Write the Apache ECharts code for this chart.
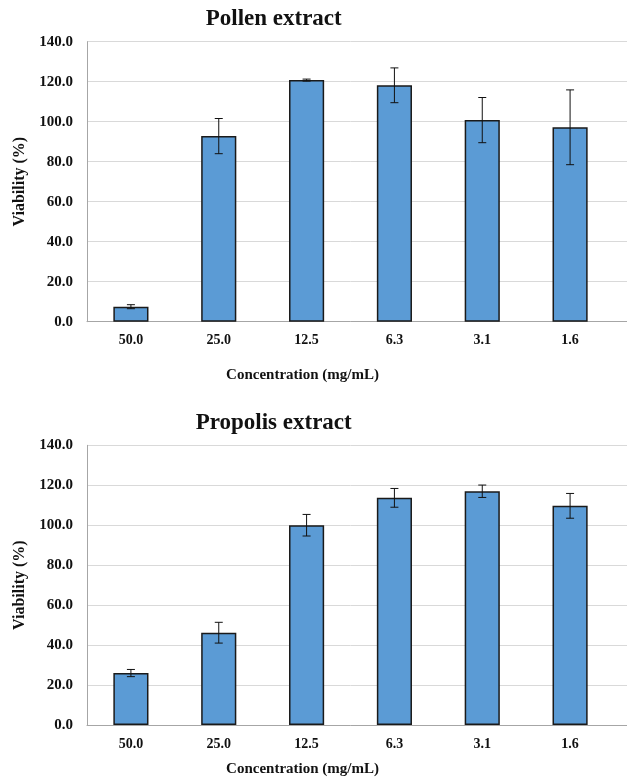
<!DOCTYPE html>
<html>
<head>
<meta charset="utf-8">
<script src="https://cdn.jsdelivr.net/npm/echarts@6/dist/echarts.min.js"></script>
<style>
  html, body { margin: 0; padding: 0; background: #fff; }
  #chart { width: 627px; height: 778px; }
</style>
</head>
<body>
<div id="chart"></div>
<script>
// Cell viability after treatment with pollen and propolis extracts
const categories = ['50.0', '25.0', '12.5', '6.3', '3.1', '1.6'];
const pollenMean = [7.5, 92.8, 120.8, 118.2, 100.8, 97.2];
const pollenSD = [1.0, 8.8, 0.5, 8.7, 11.3, 18.7];
const propolisMean = [26.0, 46.2, 100.0, 113.7, 117.0, 109.7];
const propolisSD = [1.8, 5.2, 5.4, 4.7, 3.1, 6.2];
const panelTitles = ['Pollen extract', 'Propolis extract'];
const xAxisTitle = 'Concentration (mg/mL)';
const yAxisTitle = 'Viability (%)';

const FONT = '"Liberation Serif", "Times New Roman", serif';
const AXIS_GRAY = '#a6a6a6';
const GRID_GRAY = '#d9d9d9';
const BAR_BLUE = '#5b9bd5';

const chart = echarts.init(document.getElementById('chart'), null, { renderer: 'canvas' });

function errorBarRenderer(params, api) {
  const i = api.value(0);
  const m = api.value(1);
  const s = api.value(2);
  const hi = api.coord([i, m + s]);
  const lo = api.coord([i, m - s]);
  const half = 4;
  const style = { stroke: '#111', lineWidth: 1 };
  return {
    type: 'group',
    children: [
      { type: 'line', shape: { x1: hi[0], y1: hi[1], x2: lo[0], y2: lo[1] }, style },
      { type: 'line', shape: { x1: hi[0] - half, y1: hi[1], x2: hi[0] + half, y2: hi[1] }, style },
      { type: 'line', shape: { x1: lo[0] - half, y1: lo[1], x2: lo[0] + half, y2: lo[1] }, style }
    ]
  };
}

const panelTops = [41.7, 445.3];
const plotH = 280;
const plotLeft = 87;
const plotW = 527;
const nameGaps = [46, 37];

const grids = [];
const xAxes = [];
const yAxes = [];
const series = [];
const titles = [];

const yLabelStyle = {
  fontFamily: FONT, fontWeight: 'bold', fontSize: 15, color: '#111', margin: 14,
  formatter: v => v.toFixed(1)
};

[[pollenMean, pollenSD], [propolisMean, propolisSD]].forEach((pair, p) => {
  const [means, sds] = pair;
  const top = panelTops[p];
  // main plotting area
  grids.push({ left: plotLeft, top: top, width: plotW, height: plotH, containLabel: false });
  // gridline continuation to the right edge
  grids.push({ left: plotLeft + plotW, top: top, right: 0, height: plotH, containLabel: false });

  const gMain = grids.length - 2;
  const gExt = grids.length - 1;

  xAxes.push({
    gridIndex: gMain, type: 'category', data: categories,
    axisLine: { lineStyle: { color: AXIS_GRAY, width: 1 } },
    axisTick: { show: false },
    axisLabel: { fontFamily: FONT, fontWeight: 'bold', fontSize: 14, color: '#111', margin: 12 },
    name: xAxisTitle, nameLocation: 'middle', nameGap: nameGaps[p],
    nameTextStyle: { fontFamily: FONT, fontWeight: 'bold', fontSize: 15, color: '#111', padding: [0, 96, 0, 0] }
  });
  xAxes.push({
    gridIndex: gExt, type: 'value', min: 0, max: 1,
    axisLine: { show: true, onZero: false, lineStyle: { color: AXIS_GRAY, width: 1 } },
    axisTick: { show: false }, axisLabel: { show: false }, splitLine: { show: false }
  });

  yAxes.push({
    gridIndex: gMain, type: 'value', min: 0, max: 140, interval: 20,
    axisLine: { show: true, lineStyle: { color: AXIS_GRAY, width: 1 } },
    axisTick: { show: false },
    axisLabel: yLabelStyle,
    splitLine: { lineStyle: { color: GRID_GRAY, width: 1 } },
    name: yAxisTitle, nameLocation: 'middle', nameGap: 54, nameRotate: 90,
    nameTextStyle: { fontFamily: FONT, fontWeight: 'bold', fontSize: 16, color: '#111' }
  });
  yAxes.push({
    gridIndex: gExt, type: 'value', min: 0, max: 140, interval: 20,
    axisLine: { show: false }, axisTick: { show: false }, axisLabel: { show: false },
    splitLine: { lineStyle: { color: GRID_GRAY, width: 1 } }
  });

  const xi = xAxes.length - 2;
  const yi = yAxes.length - 2;

  series.push({
    type: 'bar', xAxisIndex: xi, yAxisIndex: yi,
    data: means, barCategoryGap: '60%',
    itemStyle: { color: BAR_BLUE, borderColor: '#1a1a1a', borderWidth: 1.5 },
    silent: true, animation: false
  });
  series.push({
    type: 'custom', xAxisIndex: xi, yAxisIndex: yi,
    data: means.map((m, i) => [i, m, sds[i]]),
    renderItem: errorBarRenderer, z: 5, silent: true, animation: false
  });

  titles.push({
    text: panelTitles[p], left: 268.7, top: top - 39, textAlign: 'center',
    textStyle: { fontFamily: FONT, fontWeight: 'bold', fontSize: 23, color: '#111' }
  });
});

chart.setOption({
  backgroundColor: '#fff',
  animation: false,
  title: titles,
  grid: grids,
  xAxis: xAxes,
  yAxis: yAxes,
  series: series
});
</script>
</body>
</html>
